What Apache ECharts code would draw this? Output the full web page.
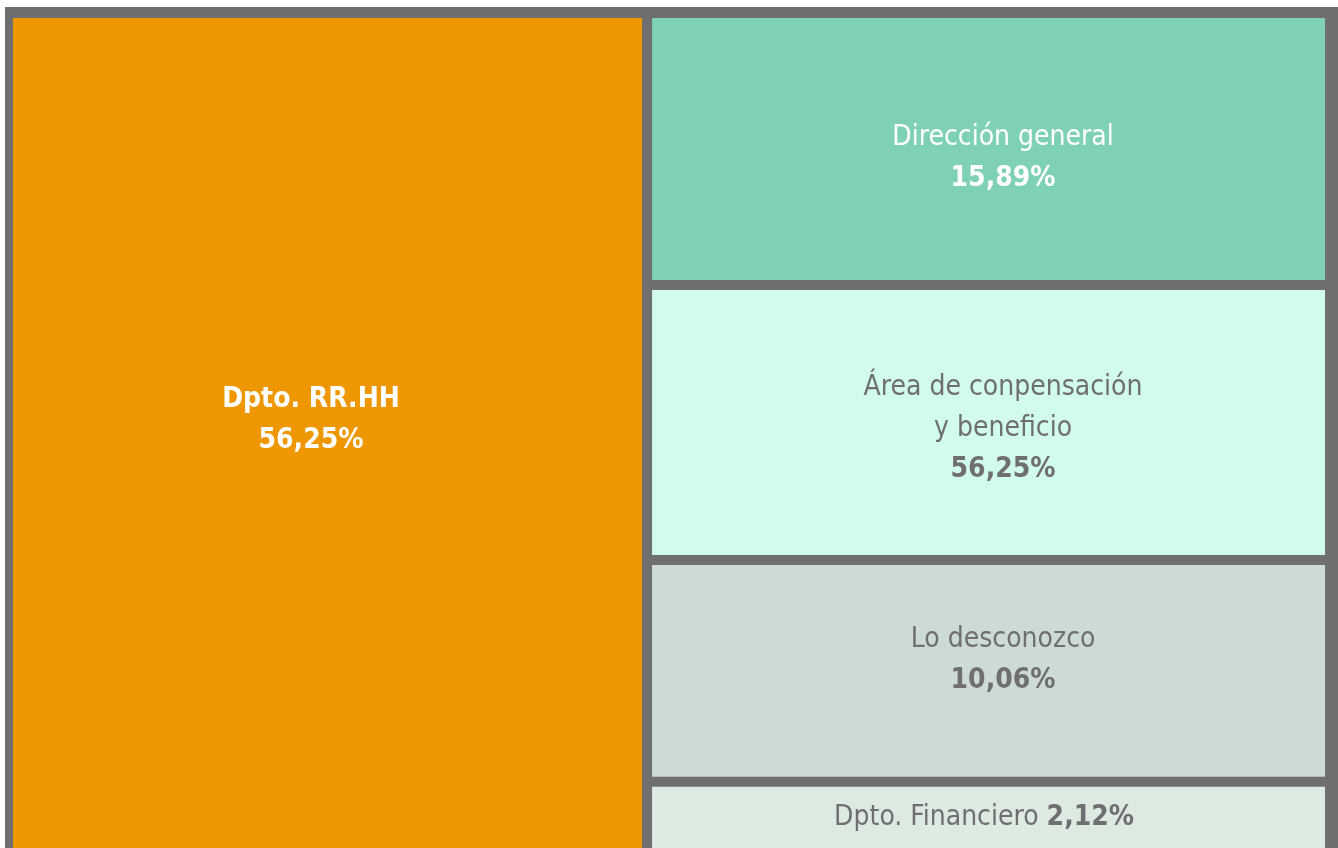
<!DOCTYPE html>
<html>
<head>
<meta charset="utf-8">
<title>Treemap departamentos</title>
<script src="https://cdn.jsdelivr.net/npm/echarts@6/dist/echarts.min.js"></script>
<style>
  body { margin: 0; background: #fff; }
  /* marco gris, la parte de abajo queda cortada como en la imagen */
  #chart { position: absolute; left: 5px; top: 7px; width: 1333px; height: 841px; }
</style>
</head>
<body>
<div id="chart"></div>
<script>
// categorias
const names = ['Dpto. RR.HH', 'Dirección general', 'Área de conpensación\ny beneficio', 'Lo desconozco', 'Dpto. Financiero']
// porcentajes que muestran las etiquetas
const percents = [56.25, 15.89, 56.25, 10.06, 2.12]
// tamaño de cada caja (% del area total, la parte baja no se ve)
const sizes = [48.34, 11.31, 11.44, 9.23, 19.68]

const GREY = '#6f6f6f'
const FONT = "'Liberation Sans Narrow', 'Arial Narrow', 'DejaVu Sans Condensed', sans-serif"
const colors = ['#ee9700', '#7fd1b5', '#d1fbec', '#cddbd6', '#ddeae2']
const textColors = ['#fff', '#fff', GREY, GREY, GREY]
// donde empieza cada etiqueta dentro de su caja
const labelAt = [[298, 361], [351, 99], [351, 77], [351, 54], [332, 10]]

function pct(v) {
  return v.toFixed(2).replace('.', ',') + '%'
}

const data = names.map((name, i) => {
  const c = textColors[i]
  let text
  if (i === 0) {
    text = '{b|' + name + '}\n{b|' + pct(percents[i]) + '}'
  } else if (i === names.length - 1) {
    text = '{n|' + name + ' }{b|' + pct(percents[i]) + '}'
  } else {
    text = '{n|' + name + '}\n{b|' + pct(percents[i]) + '}'
  }
  return {
    name: name,
    value: sizes[i],
    itemStyle: { color: colors[i] },
    label: {
      position: labelAt[i],
      formatter: text,
      rich: {
        n: { fontFamily: FONT, fontSize: 28, lineHeight: 41, color: c },
        b: { fontFamily: FONT, fontSize: 28, lineHeight: 41, fontWeight: 'bold', color: c }
      }
    }
  }
})

const chart = echarts.init(document.getElementById('chart'))
chart.setOption({
  backgroundColor: GREY,
  animation: false,
  series: [
    {
      type: 'treemap',
      left: 8,
      top: 11,
      width: 1312,
      height: 1232,
      sort: false,
      squareRatio: 0.01,
      roam: false,
      nodeClick: false,
      breadcrumb: { show: false },
      itemStyle: { borderWidth: 0, gapWidth: 10, borderColor: GREY },
      levels: [
        { itemStyle: { borderWidth: 0, gapWidth: 10, borderColor: GREY } }
      ],
      label: {
        show: true,
        padding: 0,
        align: 'center',
        verticalAlign: 'top',
        fontFamily: FONT
      },
      data: data
    }
  ]
})
</script>
</body>
</html>
